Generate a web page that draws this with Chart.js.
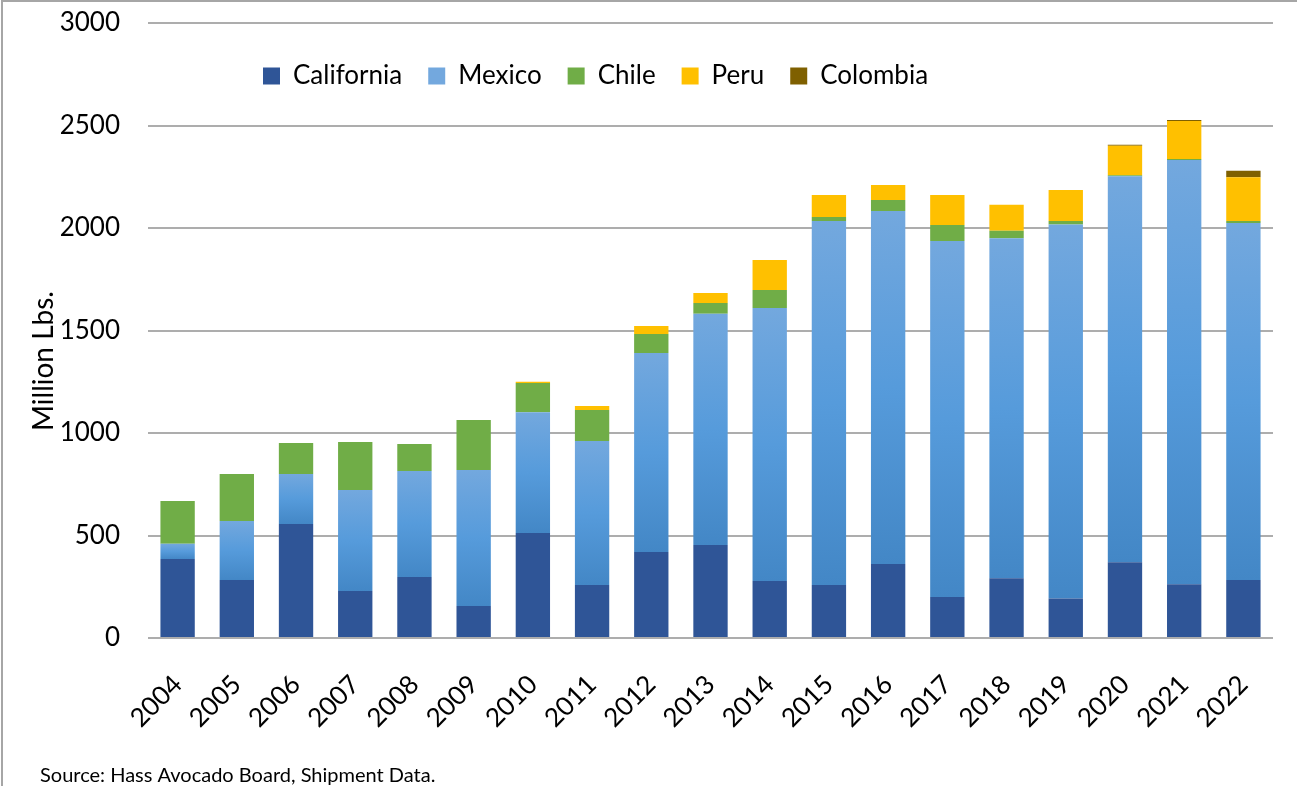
<!DOCTYPE html>
<html>
<head>
<meta charset="utf-8">
<title>Hass avocado supply by origin</title>
<script src="https://cdn.jsdelivr.net/npm/chart.js"></script>
<style>
  html, body { margin: 0; padding: 0; background: #fff; }
  #wrap { position: relative; width: 1297px; height: 786px; }
  #frame { position: absolute; left: 1px; top: 0; right: 0; bottom: 0;
           border-left: 2px solid #a6a6a6; border-top: 2px solid #a6a6a6; pointer-events: none; }
</style>
</head>
<body>
<div id="wrap">
  <canvas id="supplyChart" width="1297" height="786"></canvas>
  <div id="frame"></div>
</div>
<script>
const years = ['2004','2005','2006','2007','2008','2009','2010','2011','2012','2013',
               '2014','2015','2016','2017','2018','2019','2020','2021','2022'];

// million lbs
const california = [385, 283, 556, 229, 298, 156, 512, 259, 420, 454, 278, 259, 361, 200, 291, 193, 370, 262, 283];
const mexico     = [75, 288, 244, 493, 517, 664, 589, 702, 970, 1128, 1332, 1775, 1722, 1737, 1659, 1824, 1882, 2070, 1741];
const chile      = [208, 229, 151, 234, 131, 243, 143, 151, 93, 52, 88, 20, 54, 78, 36, 17, 5, 5, 10];
const peru       = [0, 0, 0, 0, 0, 0, 6, 20, 39, 49, 146, 107, 73, 146, 127, 151, 144, 185, 214];
const colombia   = [0, 0, 0, 0, 0, 0, 0, 0, 0, 0, 0, 0, 0, 0, 0, 0, 5, 5, 31];

const yMin = 0, yMax = 3000, yStep = 500;
const yTitle = 'Million Lbs.';
const sourceNote = 'Source: Hass Avocado Board, Shipment Data.';

Chart.defaults.font.family = 'Lato';
Chart.defaults.font.size = 26;
Chart.defaults.color = '#000';

// Mexico bars get a light-to-dark vertical gradient, one per bar
function mexicoFill(ctx) {
  const chart = ctx.chart;
  const i = ctx.dataIndex;
  if (i === undefined || !chart.chartArea) return '#62a0dc';
  const y = chart.scales.y;
  const bottom = y.getPixelForValue(california[i]);
  const top = y.getPixelForValue(california[i] + mexico[i]);
  const g = chart.ctx.createLinearGradient(0, top, 0, bottom);
  g.addColorStop(0, '#73a8de');
  g.addColorStop(0.5, '#569bdb');
  g.addColorStop(1, '#4387c6');
  return g;
}

// legend sits inside the plot, between the 3000 and 2500 lines
const placeLegend = {
  id: 'placeLegend',
  afterLayout(chart) {
    const lg = chart.legend;
    lg.left = 237;
    lg.right = 1273;
    lg.top = 37;
    lg.bottom = lg.top + 80;
  }
};

const extraText = {
  id: 'extraText',
  afterDraw(chart) {
    const c = chart.ctx;
    c.save();
    c.fillStyle = '#000';
    c.font = '28px Lato';
    c.textAlign = 'center';
    c.textBaseline = 'middle';
    c.translate(44, 361);
    c.rotate(-Math.PI / 2);
    c.fillText(yTitle, 0, 0);
    c.restore();

    c.save();
    c.fillStyle = '#000';
    c.font = '20px Lato';
    c.textAlign = 'left';
    c.textBaseline = 'middle';
    c.fillText(sourceNote, 40, 776);
    c.restore();
  }
};

const barOpts = { barPercentage: 0.58, categoryPercentage: 1, borderWidth: 0 };

new Chart('supplyChart', {
  type: 'bar',
  data: {
    labels: years,
    datasets: [
      { label: 'California', data: california, backgroundColor: '#2f5597', ...barOpts },
      { label: 'Mexico', data: mexico, backgroundColor: mexicoFill, ...barOpts },
      { label: 'Chile', data: chile, backgroundColor: '#70ad47', ...barOpts },
      { label: 'Peru', data: peru, backgroundColor: '#ffc000', ...barOpts },
      { label: 'Colombia', data: colombia, backgroundColor: '#7f6000', ...barOpts }
    ]
  },
  options: {
    responsive: false,
    animation: false,
    layout: { padding: { top: 23, right: 24, bottom: 0, left: 0 } },
    plugins: {
      legend: {
        position: 'top',
        align: 'start',
        maxHeight: 0.001,
        labels: { boxWidth: 17, boxHeight: 17, padding: 26, color: '#000', font: { size: 26 } }
      },
      tooltip: { enabled: false }
    },
    scales: {
      x: {
        stacked: true,
        grid: { display: false },
        border: { display: false },
        ticks: { maxRotation: 45, minRotation: 45, padding: 23, color: '#000' },
        afterFit(scale) { scale.height = 148; }
      },
      y: {
        stacked: true,
        min: yMin,
        max: yMax,
        ticks: { stepSize: yStep, padding: 0, color: '#000', callback: v => String(v) },
        // invisible tick marks give the gap between labels and plot
        grid: { color: '#adadad', lineWidth: 2, drawTicks: true, tickLength: 28, tickColor: 'rgba(0,0,0,0)' },
        border: { display: false },
        afterFit(scale) { scale.width = 148; }
      }
    }
  },
  plugins: [placeLegend, extraText]
});
</script>
</body>
</html>
